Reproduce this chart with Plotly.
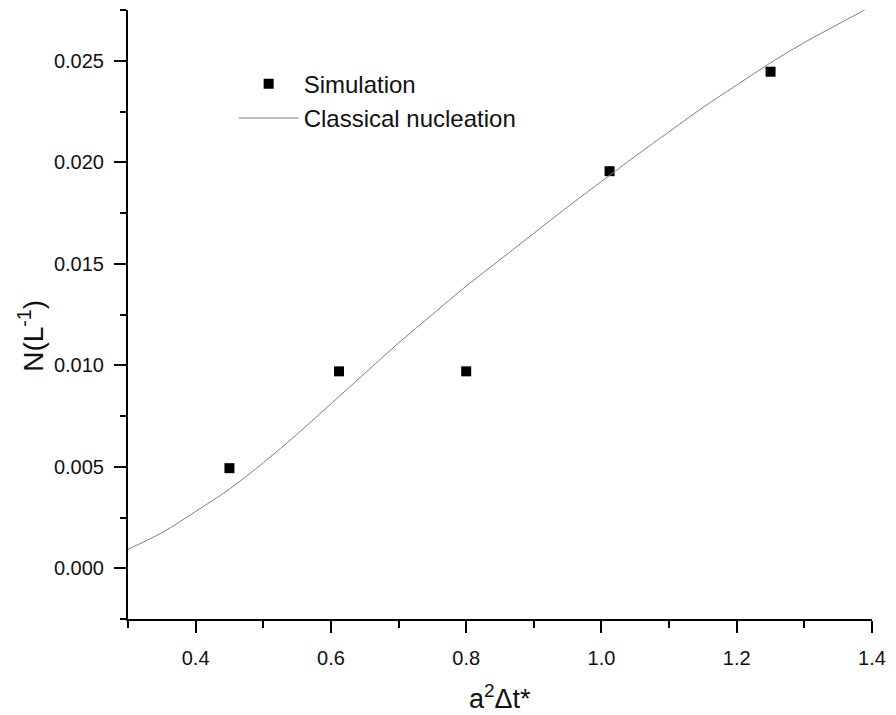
import plotly.graph_objects as go

# Simulation data points
sim_x = [0.45, 0.612, 0.80, 1.012, 1.25]
sim_y = [0.00493, 0.0097, 0.0097, 0.01956, 0.02446]

# Classical nucleation curve
cnt_x = [0.30, 0.35, 0.40, 0.45, 0.50, 0.55, 0.60, 0.65, 0.70, 0.75, 0.80, 0.85,
         0.90, 0.95, 1.00, 1.05, 1.10, 1.15, 1.20, 1.25, 1.30, 1.35, 1.40]
cnt_y = [0.00094, 0.00175, 0.0028, 0.0039, 0.0052, 0.0066, 0.0081, 0.0096, 0.0111,
         0.0125, 0.0139, 0.0152, 0.0165, 0.0178, 0.01905, 0.0203, 0.0215, 0.0227,
         0.0238, 0.0249, 0.0259, 0.0268, 0.0277]

x_ticks = [0.4, 0.6, 0.8, 1.0, 1.2, 1.4]
x_tick_labels = ["0.4", "0.6", "0.8", "1.0", "1.2", "1.4"]
y_ticks = [0.000, 0.005, 0.010, 0.015, 0.020, 0.025]
y_tick_labels = ["0.000", "0.005", "0.010", "0.015", "0.020", "0.025"]

FONT = "Liberation Sans, Arial, sans-serif"

fig = go.Figure()
fig.add_trace(go.Scatter(
    x=sim_x, y=sim_y, mode="markers", name="Simulation",
    marker=dict(symbol="square", size=10, color="black"),
))
fig.add_trace(go.Scatter(
    x=cnt_x, y=cnt_y, mode="lines", name="Classical nucleation",
    line=dict(color="#7f7f7f", width=1, shape="spline", smoothing=1.0),
))

axis_common = dict(
    showline=True, linecolor="black", linewidth=2,
    ticks="outside", ticklen=12, tickwidth=2, tickcolor="black",
    showgrid=False, zeroline=False, mirror=False,
    tickfont=dict(family=FONT, size=20, color="#111"),
)

fig.update_xaxes(
    range=[0.3, 1.4], tickvals=x_ticks, ticktext=x_tick_labels,
    minor=dict(dtick=0.1, tick0=0.3, ticks="outside", ticklen=7, tickwidth=2, tickcolor="black"),
    ticklabelstandoff=8,
    **axis_common,
)
fig.update_yaxes(
    range=[-0.0025, 0.0275], tickvals=y_ticks, ticktext=y_tick_labels,
    minor=dict(dtick=0.0025, tick0=-0.0025, ticks="outside", ticklen=6, tickwidth=2, tickcolor="black"),
    ticklabelstandoff=6,
    **axis_common,
)

fig.add_annotation(
    text="a<sup>2</sup>Δt*", xref="paper", yref="paper", x=0.5, y=(619 - 697) / 609,
    showarrow=False, font=dict(family=FONT, size=27, color="#111"),
    xanchor="center", yanchor="middle",
)
fig.add_annotation(
    text="N(L<sup>-1</sup>)", xref="paper", yref="paper", x=(30 - 128) / 750, y=(619 - 336) / 609,
    textangle=-90, showarrow=False, font=dict(family=FONT, size=28, color="#111"),
    xanchor="center", yanchor="middle",
)

fig.update_layout(
    width=896, height=715,
    margin=dict(l=128, r=18, t=10, b=96),
    paper_bgcolor="white", plot_bgcolor="white",
    showlegend=True,
    legend=dict(
        x=0.142, y=0.915, xanchor="left", yanchor="top",
        font=dict(family=FONT, size=24, color="#111"),
        bgcolor="rgba(0,0,0,0)", itemwidth=60, tracegroupgap=0,
    ),
)

fig.write_html("out.html")
